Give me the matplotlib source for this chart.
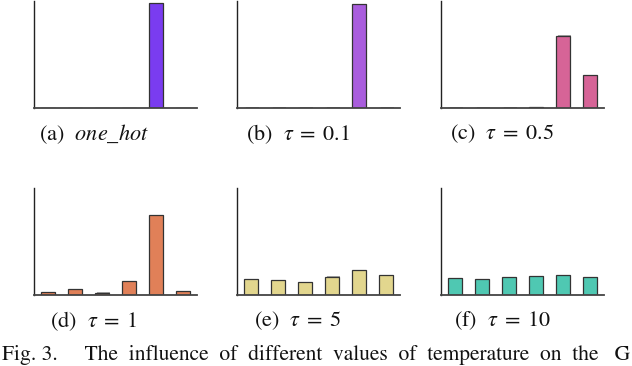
import matplotlib
matplotlib.use("Agg")
import matplotlib.pyplot as plt
import matplotlib.patheffects as pe
import numpy as np

plt.rcParams['font.family'] = ['STIXGeneral', 'DejaVu Serif']
plt.rcParams['mathtext.fontset'] = 'stix'

categories = [0, 1, 2, 3, 4, 5]
one_hot = [0.0, 0.0, 0.0, 0.0, 1.0, 0.0]
tau_01 = [0.002, 0.001, 0.002, 0.003, 0.99, 0.002]
tau_05 = [0.002, 0.001, 0.001, 0.01, 0.69, 0.31]
tau_1 = [0.025, 0.054, 0.02, 0.13, 0.76, 0.036]
tau_5 = [0.15, 0.143, 0.121, 0.174, 0.239, 0.191]
tau_10 = [0.159, 0.15, 0.168, 0.179, 0.188, 0.168]

series = [one_hot, tau_01, tau_05, tau_1, tau_5, tau_10]
colors = ['#7a3cf0', '#a95ddd', '#d66497', '#e08058', '#e2d68e', '#4fc8b2']
captions = [r'(a)  $one\_hot$', r'(b)  $\tau\;=\;0.1$', r'(c)  $\tau\;=\;0.5$',
            r'(d)  $\tau\;=\;1$', r'(e)  $\tau\;=\;5$', r'(f)  $\tau\;=\;10$']
fig_caption = "Fig. 3.     The  influence  of  different  values  of  temperature  on  the   G"

W, H = 632, 366
fig = plt.figure(figsize=(W / 100, H / 100), dpi=100)

lefts = [34, 237, 441]
tops = [1, 188]
aw, ah = 163, 107
cap_x = [94, 298, 502]
cap_y = [134, 321]

for i, vals in enumerate(series):
    r, c = divmod(i, 3)
    ax = fig.add_axes([lefts[c] / W, 1 - (tops[r] + ah) / H, aw / W, ah / H])
    bars = ax.bar(categories, vals, width=0.5, color=colors[i],
                  edgecolor='#333333', linewidth=0.9)
    for b in bars:
        b.set_path_effects([pe.SimplePatchShadow(offset=(1.0, 0.3), shadow_rgbFace='#a8a8a8', alpha=1.0),
                            pe.Normal()])
    ax.set_ylim(0, 1.02)
    ax.set_xlim(-0.525, 5.525)
    ax.set_xticks([])
    ax.set_yticks([])
    for s in ['top', 'right']:
        ax.spines[s].set_visible(False)
    ax.spines['left'].set_color('#222222')
    ax.spines['left'].set_linewidth(1.0)
    ax.spines['bottom'].set_color('#444444')
    ax.spines['bottom'].set_linewidth(1.3)
    fig.text(cap_x[c] / W, 1 - cap_y[r] / H, captions[i], ha='center', va='center',
             fontsize=16, color='#111111')

fig.text(2 / W, 1 / H, fig_caption, ha='left', va='bottom', fontsize=15.5, color='#111111')

fig.savefig('out.png', dpi=100)
